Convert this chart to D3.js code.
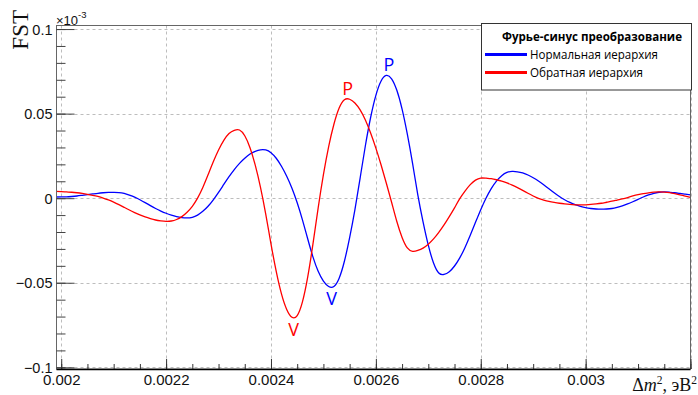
<!DOCTYPE html>
<html>
<head>
<meta charset="utf-8">
<script src="https://cdn.jsdelivr.net/npm/d3@7"></script>
<style>
  html, body { margin: 0; padding: 0; background: #fff; }
  svg { display: block; }
</style>
</head>
<body>
<svg id="chart" width="698" height="395"></svg>
<script>
// Fourier-sine transform of the spectrum, sampled every 1e-5 eV² starting at 0.00199 eV².
// Values are in units of 1e-3.
const sampleStart = 0.00199;
const sampleStep = 0.00001;

const normalHierarchy = [
  0.0007, 0.0008, 0.0008, 0.0010, 0.0013, 0.0017, 0.0021, 0.0025, 0.0029, 0.0032,
  0.0034, 0.0034, 0.0033, 0.0028, 0.0018, 0.0006, -0.0009, -0.0026, -0.0044, -0.0061,
  -0.0076, -0.0089, -0.0100, -0.0109, -0.0115, -0.0117, -0.0113, -0.0100, -0.0078, -0.0048,
  -0.0010, 0.0034, 0.0081, 0.0127, 0.0169, 0.0206, 0.0236, 0.0261, 0.0277, 0.0286,
  0.0285, 0.0269, 0.0236, 0.0189, 0.0130, 0.0059, -0.0027, -0.0128, -0.0240, -0.0347,
  -0.0432, -0.0490, -0.0522, -0.0522, -0.0473, -0.0373, -0.0233, -0.0069, 0.0119, 0.0310,
  0.0477, 0.0608, 0.0693, 0.0726, 0.0706, 0.0638, 0.0527, 0.0379, 0.0206, 0.0019,
  -0.0140, -0.0278, -0.0383, -0.0442, -0.0451, -0.0435, -0.0401, -0.0353, -0.0291, -0.0219,
  -0.0143, -0.0068, 0.0000, 0.0057, 0.0101, 0.0133, 0.0152, 0.0158, 0.0156, 0.0149,
  0.0137, 0.0121, 0.0102, 0.0080, 0.0056, 0.0032, 0.0010, -0.0009, -0.0025, -0.0038,
  -0.0048, -0.0056, -0.0061, -0.0064, -0.0065, -0.0064, -0.0061, -0.0054, -0.0045, -0.0034,
  -0.0021, -0.0007, 0.0007, 0.0019, 0.0029, 0.0035, 0.0037, 0.0035, 0.0032, 0.0028,
  0.0024, 0.0020
];

const invertedHierarchy = [
  0.0040, 0.0039, 0.0037, 0.0035, 0.0032, 0.0028, 0.0023, 0.0017, 0.0010, 0.0001,
  -0.0010, -0.0023, -0.0038, -0.0054, -0.0070, -0.0085, -0.0099, -0.0111, -0.0121, -0.0129,
  -0.0134, -0.0137, -0.0135, -0.0126, -0.0109, -0.0083, -0.0048, 0.0000, 0.0063, 0.0138,
  0.0215, 0.0285, 0.0342, 0.0382, 0.0401, 0.0403, 0.0369, 0.0298, 0.0195, 0.0064,
  -0.0094, -0.0270, -0.0433, -0.0566, -0.0658, -0.0704, -0.0694, -0.0613, -0.0467, -0.0272,
  -0.0057, 0.0139, 0.0305, 0.0437, 0.0533, 0.0582, 0.0585, 0.0563, 0.0522, 0.0462,
  0.0385, 0.0296, 0.0196, 0.0088, -0.0024, -0.0138, -0.0232, -0.0294, -0.0314, -0.0309,
  -0.0295, -0.0272, -0.0241, -0.0202, -0.0158, -0.0109, -0.0057, -0.0003, 0.0042, 0.0080,
  0.0107, 0.0119, 0.0118, 0.0115, 0.0109, 0.0101, 0.0090, 0.0077, 0.0062, 0.0046,
  0.0029, 0.0013, -0.0001, -0.0011, -0.0019, -0.0025, -0.0030, -0.0034, -0.0037, -0.0039,
  -0.0040, -0.0039, -0.0037, -0.0034, -0.0030, -0.0024, -0.0018, -0.0011, -0.0004, 0.0004,
  0.0013, 0.0021, 0.0027, 0.0032, 0.0036, 0.0037, 0.0036, 0.0033, 0.0027, 0.0020,
  0.0012, 0.0005
];

// Peak (P) and valley (V) markers: label, series index, Δm² position
const markText = ["P", "V", "P", "V"];
const markSeries = [0, 0, 1, 1];
const markX = [0.002625, 0.0025155, 0.002546, 0.002443];

const xTicks = [0.002, 0.0022, 0.0024, 0.0026, 0.0028, 0.003, 0.0032];
const xTickLabels = ["0.002", "0.0022", "0.0024", "0.0026", "0.0028", "0.003", ""];
const yTicks = [-0.1, -0.05, 0, 0.05, 0.1];
const yTickLabels = ["\u22120.1", "\u22120.05", "0", "0.05", "0.1"];

const legendTitle = "Фурье-синус преобразование";
const seriesNames = ["Нормальная иерархия", "Обратная иерархия"];
const seriesColors = ["#0000ff", "#ff0000"];

// ---------------------------------------------------------------------------
const svg = d3.select("#chart");
const frame = { left: 56.5, right: 690.5, top: 25.5, bottom: 369 };

const x = d3.scaleLinear().domain([0.001991, 0.0032]).range([frame.left, frame.right]);
const y = d3.scaleLinear().domain([-0.101, 0.1021]).range([frame.bottom, frame.top]);

const series = [normalHierarchy, invertedHierarchy].map((vals, k) => ({
  name: seriesNames[k],
  color: seriesColors[k],
  points: vals.map((v, i) => ({ x: sampleStart + i * sampleStep, y: v }))
}));

svg.append("defs").append("clipPath").attr("id", "plot-clip")
  .append("rect")
  .attr("x", frame.left).attr("y", frame.top)
  .attr("width", frame.right - frame.left).attr("height", frame.bottom - frame.top);

// Grid
const grid = svg.append("g").attr("stroke", "#bdbdbd").attr("stroke-width", 1)
  .attr("stroke-dasharray", "3,3").attr("fill", "none");
grid.selectAll("line.gx").data(xTicks).join("line")
  .attr("x1", d => Math.round(x(d)) + 0.5).attr("x2", d => Math.round(x(d)) + 0.5)
  .attr("y1", frame.top).attr("y2", frame.bottom);
grid.selectAll("line.gy").data(yTicks).join("line")
  .attr("y1", d => Math.round(y(d)) + 0.5).attr("y2", d => Math.round(y(d)) + 0.5)
  .attr("x1", frame.left).attr("x2", frame.right);

// Curves
const line = d3.line()
  .x(d => x(d.x)).y(d => y(d.y))
  .curve(d3.curveNatural);

svg.append("g").attr("clip-path", "url(#plot-clip)")
  .selectAll("path").data(series).join("path")
  .attr("d", d => line(d.points))
  .attr("fill", "none")
  .attr("stroke", d => d.color)
  .attr("stroke-width", 1.3);

// Frame
svg.append("rect")
  .attr("x", frame.left).attr("y", frame.top)
  .attr("width", frame.right - frame.left).attr("height", frame.bottom - frame.top)
  .attr("fill", "none").attr("stroke", "#666").attr("stroke-width", 1);

// Y axis: major and minor ticks pointing inward
const yMinor = d3.range(-10, 11).map(v => v / 100);
const yAxisMinor = d3.axisLeft(y).tickValues(yMinor).tickSize(-9).tickSizeOuter(0).tickFormat("");
const yAxisMajor = d3.axisLeft(y).tickValues(yTicks).tickSize(-18).tickSizeOuter(0).tickPadding(4)
  .tickFormat((d, i) => yTickLabels[i]);

const gy1 = svg.append("g").attr("transform", `translate(${frame.left},0)`).call(yAxisMinor);
const gy2 = svg.append("g").attr("transform", `translate(${frame.left},0)`).call(yAxisMajor);
[gy1, gy2].forEach(g => {
  g.select(".domain").remove();
  g.selectAll(".tick line").attr("stroke", "#444");
});
gy2.selectAll(".tick text")
  .attr("font-family", "'Liberation Sans', Arial, sans-serif")
  .attr("font-size", 14.5).attr("fill", "#111")
  .attr("dy", "0.36em");

// X axis: major and minor ticks pointing inward
const xMinor = d3.range(0, 25).map(i => 0.002 + i * 0.00005);
const xAxisMinor = d3.axisBottom(x).tickValues(xMinor).tickSize(-5).tickSizeOuter(0).tickFormat("");
const xAxisMajor = d3.axisBottom(x).tickValues(xTicks).tickSize(-10).tickSizeOuter(0).tickPadding(4)
  .tickFormat((d, i) => xTickLabels[i]);

const gx1 = svg.append("g").attr("transform", `translate(0,${frame.bottom})`).call(xAxisMinor);
const gx2 = svg.append("g").attr("transform", `translate(0,${frame.bottom})`).call(xAxisMajor);
[gx1, gx2].forEach(g => {
  g.select(".domain").remove();
  g.selectAll(".tick line").attr("stroke", "#333");
});
gx2.selectAll(".tick text")
  .attr("font-family", "'Liberation Sans', Arial, sans-serif")
  .attr("font-size", 15).attr("fill", "#111")
  .attr("y", 15.5).attr("dy", 0);

// Bottom axis line
svg.append("line")
  .attr("x1", frame.left).attr("x2", frame.right)
  .attr("y1", frame.bottom + 0.5).attr("y2", frame.bottom + 0.5)
  .attr("stroke", "#000").attr("stroke-width", 1.6);

// Exponent label
const expo = svg.append("text")
  .attr("x", 56).attr("y", 24.5)
  .attr("font-family", "'Liberation Sans', Arial, sans-serif")
  .attr("font-size", 13).attr("fill", "#111");
expo.append("tspan").text("\u00d710");
expo.append("tspan").attr("dy", -7).attr("font-size", 9.5).text("-3");

// Axis titles
svg.append("text")
  .attr("transform", "translate(28,10) rotate(-90)")
  .attr("text-anchor", "end")
  .attr("font-family", "'Liberation Serif', 'Times New Roman', serif")
  .attr("font-size", 23).attr("fill", "#111")
  .text("FST");

const xt = svg.append("text")
  .attr("x", 697).attr("y", 391)
  .attr("text-anchor", "end")
  .attr("font-family", "'Liberation Serif', 'Times New Roman', serif")
  .attr("font-size", 18).attr("fill", "#111");
xt.append("tspan").text("\u0394");
xt.append("tspan").attr("font-style", "italic").text("m");
xt.append("tspan").attr("dy", -7).attr("font-size", 11.5).text("2");
xt.append("tspan").attr("dy", 7).text(", эВ");
xt.append("tspan").attr("dy", -7).attr("font-size", 11.5).text("2");

// Peak / valley markers, placed just above a maximum or just below a minimum
svg.append("g").selectAll("text").data(markText).join("text")
  .each(function (t, i) {
    const s = series[markSeries[i]];
    const vals = s.points.map(p => p.y);
    const v = t === "P" ? d3.max(vals) : d3.min(vals);
    d3.select(this)
      .attr("x", x(markX[i]))
      .attr("y", t === "P" ? y(v) - 4 : y(v) + 19)
      .attr("fill", s.color)
      .text(t);
  })
  .attr("text-anchor", "middle")
  .attr("font-family", "'Open Sans', 'Noto Sans', sans-serif")
  .attr("font-size", 18);

// Legend
const lg = svg.append("g");
lg.append("rect")
  .attr("x", 481.5).attr("y", 23.5).attr("width", 210).attr("height", 66.5)
  .attr("fill", "#fff").attr("stroke", "#333").attr("stroke-width", 1);
lg.append("text")
  .attr("x", 502).attr("y", 41)
  .attr("font-family", "'Open Sans', 'Noto Sans', sans-serif")
  .attr("font-weight", "bold").attr("font-size", 12.5).attr("fill", "#000")
  .attr("textLength", 180).attr("lengthAdjust", "spacingAndGlyphs")
  .text(legendTitle);
const rows = lg.selectAll("g.row").data(series).join("g")
  .attr("transform", (d, i) => `translate(0,${54.5 + i * 18})`);
rows.append("line")
  .attr("x1", 485).attr("x2", 527).attr("y1", 0).attr("y2", 0)
  .attr("stroke", d => d.color).attr("stroke-width", 3);
rows.append("text")
  .attr("x", 530).attr("y", 4.8)
  .attr("font-family", "'Open Sans', 'Noto Sans', sans-serif")
  .attr("font-size", 13.5).attr("fill", "#000")
  .attr("textLength", (d, i) => i === 0 ? 128 : 113)
  .attr("lengthAdjust", "spacingAndGlyphs")
  .text(d => d.name);
</script>
</body>
</html>
